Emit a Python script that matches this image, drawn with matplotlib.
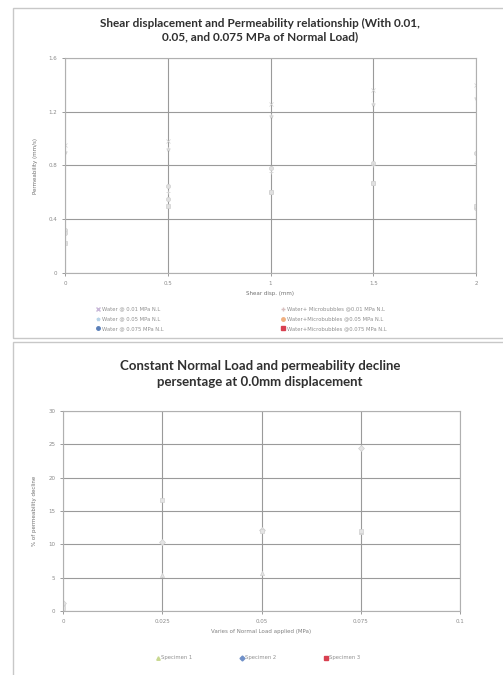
import matplotlib
matplotlib.use("Agg")
import matplotlib.pyplot as plt
from matplotlib.patches import Rectangle

# ---------------- data: top chart ----------------
shear_disp = [0, 0.5, 1, 1.5, 2]
top_labels = [
    "Water @ 0.01 MPa N.L",
    "Water @ 0.05 MPa N.L",
    "Water @ 0.075 MPa N.L",
    "Water+ Microbubbles @0.01 MPa N.L",
    "Water+Microbubbles @0.05 MPa N.L",
    "Water+Microbubbles @0.075 MPa N.L",
]
water_001 = [0.95, 0.98, 1.26, 1.36, 1.40]
water_005 = [0.90, 0.92, 1.17, 1.26, 1.30]
water_0075 = [0.32, 0.65, 0.78, 0.82, 0.89]
wmb_001 = [0.22, 0.60, 0.75, 0.80, 0.82]
wmb_005 = [0.30, 0.55, 0.60, 0.67, 0.48]
wmb_0075 = [0.22, 0.50, 0.60, 0.67, 0.50]
top_series = [water_001, water_005, water_0075, wmb_001, wmb_005, wmb_0075]
top_yticks = [0, 0.4, 0.8, 1.2, 1.6]
top_xticks = [0, 0.5, 1, 1.5, 2]

# ---------------- data: bottom chart ----------------
normal_load = [0, 0.025, 0.05, 0.075]
bottom_labels = ["Specimen 1", "Specimen 2", "Specimen 3"]
specimen1 = [1.2, 5.4, 5.7, 11.9]
specimen2 = [1.2, 10.3, 12.1, 24.4]
specimen3 = [0.5, 16.6, 12.0, 12.0]
bottom_series = [specimen1, specimen2, specimen3]
bottom_yticks = [0, 5, 10, 15, 20, 25, 30]
bottom_xticks = [0, 0.025, 0.05, 0.075, 0.1]

W, H = 503, 675
fig = plt.figure(figsize=(W / 100, H / 100), dpi=100)
fig.patch.set_facecolor("white")

def px(l, t, r, b):
    return [l / W, 1 - b / H, (r - l) / W, (b - t) / H]

# panel frames
for (l, t, r, b) in [(13, 8, 520, 338), (13, 342, 520, 690)]:
    fig.patches.append(Rectangle((l / W, 1 - b / H), (r - l) / W, (b - t) / H,
                                 transform=fig.transFigure, fill=False,
                                 edgecolor="#c8c8c8", linewidth=1.0))

grid_c = "#9a9a9a"
tick_c = "#8a8a8a"

def style_axes(ax):
    for s in ax.spines.values():
        s.set_color("#b0b0b0")
        s.set_linewidth(0.8)
    ax.grid(True, color=grid_c, linewidth=0.8)
    ax.set_axisbelow(True)
    ax.tick_params(axis="both", labelsize=4, colors=tick_c, length=2, width=0.6)

# ---------------- top chart ----------------
ax1 = fig.add_axes(px(65, 58, 476, 273))
top_markers = ["x", "*", "o", "+", "o", "s"]
top_colors = ["#c9b8d8", "#b8d4e8", "#5a7fb8", "#d8c0c0", "#f0b080", "#d84050"]
for ys, lab, m, c in zip(top_series, top_labels, top_markers, top_colors):
    ax1.plot(shear_disp, ys, linestyle="none", marker=m, markersize=3,
             color="#e0e0e0", markeredgecolor="#d0d0d0", markeredgewidth=0.5)
    ax1.plot([], [], linestyle="none", marker=m, markersize=2.5, color=c, label=lab)
ax1.set_xlim(0, 2)
ax1.set_ylim(0, 1.6)
ax1.set_xticks(top_xticks)
ax1.set_yticks(top_yticks)
ax1.set_xticklabels(["0", "0.5", "1", "1.5", "2"])
ax1.set_yticklabels(["0", "0.4", "0.8", "1.2", "1.6"])
style_axes(ax1)
ax1.set_xlabel("Shear disp. (mm)", fontsize=4, color="#707070", labelpad=4)
ax1.set_ylabel("Permeability (mm/s)", fontsize=4, color="#707070", labelpad=8)
fig.text(260 / W, 1 - 30 / H,
         "Shear displacement and Permeability relationship (With 0.01,\n0.05, and 0.075 MPa of Normal Load)",
         ha="center", va="center", fontsize=8.5, fontweight="bold",
         family="Lato", color="#303030", linespacing=1.25)
handles, labels = ax1.get_legend_handles_labels()
fig.legend(handles, labels,
           loc="center", bbox_to_anchor=(241 / W, 1 - 319 / H), ncol=2,
           fontsize=3.8, frameon=False, columnspacing=22, handletextpad=0.3,
           labelspacing=0.9, labelcolor="#909090", handlelength=1.0)

# ---------------- bottom chart ----------------
ax2 = fig.add_axes(px(63, 411, 460, 611))
bot_markers = ["^", "D", "s"]
bot_colors = ["#c8d890", "#7090c8", "#d84050"]
for ys, lab, m, c in zip(bottom_series, bottom_labels, bot_markers, bot_colors):
    ax2.plot(normal_load, ys, linestyle="none", marker=m, markersize=3,
             color="#e4e4e4", markeredgecolor="#d0d0d0", markeredgewidth=0.5)
    ax2.plot([], [], linestyle="none", marker=m, markersize=2.5, color=c, label=lab)
ax2.set_xlim(0, 0.1)
ax2.set_ylim(0, 30)
ax2.set_xticks(bottom_xticks)
ax2.set_yticks(bottom_yticks)
ax2.set_xticklabels(["0", "0.025", "0.05", "0.075", "0.1"])
ax2.set_yticklabels(["0", "5", "10", "15", "20", "25", "30"])
style_axes(ax2)
ax2.set_xlabel("Varies of Normal Load applied (MPa)", fontsize=4, color="#808080", labelpad=4)
ax2.set_ylabel("% of permeability decline", fontsize=4, color="#707070", labelpad=8)
fig.text(260 / W, 1 - 374 / H,
         "Constant Normal Load and permeability decline\npersentage at 0.0mm displacement",
         ha="center", va="center", fontsize=9.5, fontweight="bold",
         family="Lato", color="#303030", linespacing=1.3)
h2, l2 = ax2.get_legend_handles_labels()
fig.legend(h2, l2, loc="center", bbox_to_anchor=(258 / W, 1 - 658 / H), ncol=3,
           fontsize=3.8, frameon=False, columnspacing=9, handletextpad=0.2,
           labelcolor="#909090", handlelength=0.8)

fig.savefig("out.png", dpi=100)
